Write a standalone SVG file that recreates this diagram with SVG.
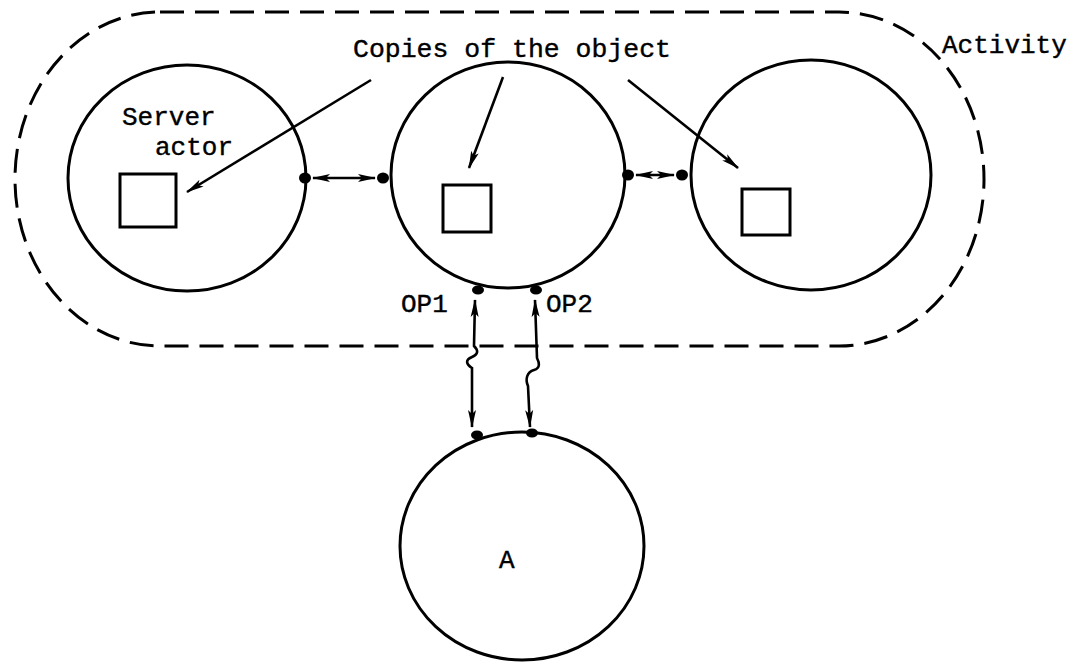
<svg xmlns="http://www.w3.org/2000/svg" width="1084" height="667" viewBox="0 0 1084 667">
<style>
.node{fill:none;stroke:#000;stroke-width:3}
.sq{fill:none;stroke:#000;stroke-width:3}
.bound{fill:none;stroke:#000;stroke-width:3;stroke-dasharray:24 11}
.con{fill:none;stroke:#000;stroke-width:2.6}
.dot{fill:#000}
text{font-family:"Liberation Mono","DejaVu Sans Mono",monospace;font-size:26px;fill:#000;stroke:#000;stroke-width:0.4}
</style>
<defs>
<marker id="ah" viewBox="0 0 18 10" refX="17" refY="5" markerWidth="18" markerHeight="10" markerUnits="userSpaceOnUse" orient="auto-start-reverse">
<path d="M0,1 L18,5 L0,9 L4,5 Z" fill="#000"/>
</marker>
</defs>
<rect width="1084" height="667" fill="#fff"/>
<g id="activity">
<path class="bound" d="M160,12 L839,12 A145,167 0 0 1 839,346 L160,346 A145,167 0 0 1 160,12 Z"/>
<text x="942" y="53">Activity</text>
</g>
<g id="server-actor">
<ellipse class="node" cx="187" cy="178" rx="119" ry="113"/>
<rect class="sq" x="120" y="174" width="56" height="53"/>
<text x="122" y="125">Server</text>
<text x="155" y="155">actor</text>
</g>
<g id="copy-middle">
<ellipse class="node" cx="508" cy="175" rx="117" ry="113"/>
<rect class="sq" x="443" y="185" width="48" height="47"/>
<text x="401" y="312">OP1</text>
<text x="546" y="312">OP2</text>
</g>
<g id="copy-right">
<ellipse class="node" cx="811" cy="175" rx="120" ry="115"/>
<rect class="sq" x="742" y="189" width="48" height="46"/>
</g>
<g id="node-a">
<ellipse class="node" cx="522" cy="546" rx="122" ry="114"/>
<text x="499" y="568">A</text>
</g>
<g id="label-copies">
<text x="353" y="57" textLength="318" lengthAdjust="spacingAndGlyphs">Copies of the object</text>
</g>
<g id="connectors">
<line class="con" x1="371" y1="80" x2="187" y2="192" marker-end="url(#ah)"/>
<line class="con" x1="503" y1="77" x2="469" y2="168" marker-end="url(#ah)"/>
<line class="con" x1="628" y1="80" x2="738" y2="168" marker-end="url(#ah)"/>
<line class="con" x1="313" y1="178" x2="375" y2="178" marker-start="url(#ah)" marker-end="url(#ah)"/>
<line class="con" x1="636" y1="175" x2="674" y2="175" marker-start="url(#ah)" marker-end="url(#ah)"/>
<path class="con" d="M472,427 L472,368 C466,364 465,360 472,357 C479,354 478,350 474,346 L475,300" marker-start="url(#ah)" marker-end="url(#ah)"/>
<path class="con" d="M530,427 L528,386 C525,379 527,372 534,370 C541,368 539,362 537,358 L535,300" marker-start="url(#ah)" marker-end="url(#ah)"/>
<ellipse class="dot" cx="305" cy="178" rx="6" ry="5.5"/>
<ellipse class="dot" cx="383" cy="178" rx="6" ry="5.5"/>
<ellipse class="dot" cx="628" cy="175" rx="6" ry="5.5"/>
<ellipse class="dot" cx="682" cy="175" rx="6" ry="5.5"/>
<ellipse class="dot" cx="478" cy="290" rx="6" ry="4.5"/>
<ellipse class="dot" cx="536" cy="290" rx="6" ry="4.5"/>
<ellipse class="dot" cx="477" cy="435" rx="6" ry="4.5"/>
<ellipse class="dot" cx="532" cy="433" rx="6" ry="4.5"/>
</g>
</svg>
